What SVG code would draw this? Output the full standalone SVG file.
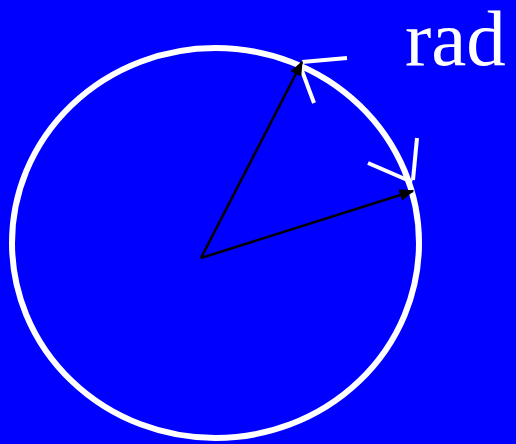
<svg xmlns="http://www.w3.org/2000/svg" width="516" height="444" viewBox="0 0 516 444">
<defs>
<style>
.ring{fill:none;stroke:#fff;stroke-width:6}
.vec{stroke:#000;stroke-width:2.5;fill:none}
.tick{stroke:#fff;stroke-width:4;stroke-linecap:butt}
.lbl{font-family:"Liberation Serif",serif;font-size:79px;fill:#fff}
</style>
<marker id="ah" viewBox="0 0 10 8" refX="9" refY="4" markerWidth="6" markerHeight="4.8" orient="auto" markerUnits="strokeWidth">
<path d="M0,0 L10,4 L0,8 z" fill="#000"/>
</marker>
</defs>
<rect width="516" height="444" fill="#0000ff"/>
<g id="circle"><ellipse class="ring" cx="215.5" cy="243" rx="203.5" ry="195"/></g>
<g id="ticks">
<line class="tick" x1="302" y1="62" x2="347" y2="58"/>
<line class="tick" x1="301" y1="68" x2="314" y2="103"/>
<line class="tick" x1="368" y1="163" x2="412" y2="182"/>
<line class="tick" x1="417" y1="138" x2="413" y2="180"/>
</g>
<g id="connectors">
<line class="vec" x1="201" y1="258" x2="302" y2="62" marker-end="url(#ah)"/>
<line class="vec" x1="201" y1="258" x2="413" y2="191" marker-end="url(#ah)"/>
</g>
<g id="label"><text class="lbl" x="405" y="65">rad</text></g>
</svg>
